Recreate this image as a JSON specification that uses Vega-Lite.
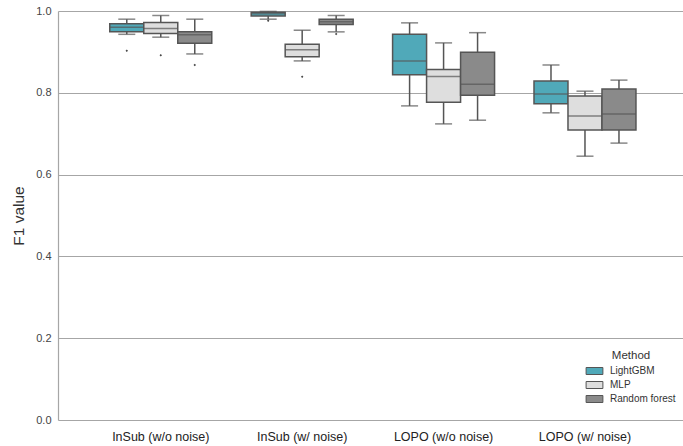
{
  "$schema": "https://vega.github.io/schema/vega-lite/v6.json",
  "autosize": {"type": "none"},
  "padding": {"left": 58, "top": 11, "right": 0, "bottom": 26},
  "width": 625,
  "height": 409,
  "background": "white",
  "config": {
    "font": "Liberation Sans",
    "view": {"stroke": null},
    "axis": {"labelFont": "Liberation Sans", "titleFont": "Liberation Sans"},
    "legend": {"labelFont": "Liberation Sans", "titleFont": "Liberation Sans"}
  },
  "datasets": {
    "stats": [
      {"group": "InSub (w/o noise)", "method": "LightGBM", "lo": 0.943, "q1": 0.949, "med": 0.960, "q3": 0.969, "hi": 0.980},
      {"group": "InSub (w/o noise)", "method": "MLP", "lo": 0.936, "q1": 0.945, "med": 0.957, "q3": 0.972, "hi": 0.989},
      {"group": "InSub (w/o noise)", "method": "Random forest", "lo": 0.895, "q1": 0.921, "med": 0.942, "q3": 0.949, "hi": 0.980},
      {"group": "InSub (w/ noise)", "method": "LightGBM", "lo": 0.980, "q1": 0.988, "med": 0.993, "q3": 0.997, "hi": 0.999},
      {"group": "InSub (w/ noise)", "method": "MLP", "lo": 0.878, "q1": 0.888, "med": 0.905, "q3": 0.919, "hi": 0.953},
      {"group": "InSub (w/ noise)", "method": "Random forest", "lo": 0.949, "q1": 0.967, "med": 0.974, "q3": 0.980, "hi": 0.989},
      {"group": "LOPO (w/o noise)", "method": "LightGBM", "lo": 0.768, "q1": 0.844, "med": 0.878, "q3": 0.943, "hi": 0.971},
      {"group": "LOPO (w/o noise)", "method": "MLP", "lo": 0.724, "q1": 0.777, "med": 0.840, "q3": 0.857, "hi": 0.922},
      {"group": "LOPO (w/o noise)", "method": "Random forest", "lo": 0.733, "q1": 0.794, "med": 0.821, "q3": 0.899, "hi": 0.947},
      {"group": "LOPO (w/ noise)", "method": "LightGBM", "lo": 0.751, "q1": 0.773, "med": 0.797, "q3": 0.829, "hi": 0.868},
      {"group": "LOPO (w/ noise)", "method": "MLP", "lo": 0.645, "q1": 0.709, "med": 0.743, "q3": 0.792, "hi": 0.804},
      {"group": "LOPO (w/ noise)", "method": "Random forest", "lo": 0.677, "q1": 0.709, "med": 0.748, "q3": 0.809, "hi": 0.831}
    ],
    "outliers": [
      {"group": "InSub (w/o noise)", "method": "LightGBM", "value": 0.903},
      {"group": "InSub (w/o noise)", "method": "MLP", "value": 0.892},
      {"group": "InSub (w/o noise)", "method": "Random forest", "value": 0.868},
      {"group": "InSub (w/ noise)", "method": "LightGBM", "value": 0.976},
      {"group": "InSub (w/ noise)", "method": "MLP", "value": 0.839},
      {"group": "InSub (w/ noise)", "method": "Random forest", "value": 0.944}
    ]
  },
  "data": {"name": "stats"},
  "encoding": {
    "x": {
      "field": "group", "type": "nominal",
      "sort": ["InSub (w/o noise)", "InSub (w/ noise)", "LOPO (w/o noise)", "LOPO (w/ noise)"],
      "scale": {"paddingInner": 0, "paddingOuter": 0.21, "align": 0.54},
      "axis": {"title": null, "labelAngle": 0, "domain": false, "ticks": false, "grid": false, "labelFontSize": 12.5, "labelColor": "#222222", "labelPadding": 10}
    },
    "xOffset": {
      "field": "method", "type": "nominal",
      "sort": ["LightGBM", "MLP", "Random forest"],
      "scale": {"paddingInner": 0, "paddingOuter": 0.58}
    }
  },
  "layer": [
    {
      "mark": {"type": "rule", "color": "#555555", "strokeWidth": 1.5},
      "encoding": {
        "y": {"field": "lo", "type": "quantitative", "scale": {"domain": [0, 1], "nice": false},
          "axis": {"title": "F1 value", "values": [0, 0.2, 0.4, 0.6, 0.8, 1.0], "format": ".1f", "tickSize": 0, "labelPadding": 7, "labelFontSize": 11, "labelColor": "#444444", "titleFontSize": 15.5, "titleFontWeight": "normal", "titleColor": "#333333", "titlePadding": 9, "domainColor": "#a6a6a6", "domainWidth": 1.2, "gridColor": "#a6a6a6", "gridWidth": 1.2, "gridOpacity": 1}},
        "y2": {"field": "q1"}
      }
    },
    {
      "mark": {"type": "rule", "color": "#555555", "strokeWidth": 1.5},
      "encoding": {
        "y": {"field": "q3", "type": "quantitative"},
        "y2": {"field": "hi"}
      }
    },
    {
      "mark": {"type": "tick", "color": "#555555", "size": 17, "thickness": 1.5},
      "encoding": {"y": {"field": "lo", "type": "quantitative"}}
    },
    {
      "mark": {"type": "tick", "color": "#555555", "size": 17, "thickness": 1.5},
      "encoding": {"y": {"field": "hi", "type": "quantitative"}}
    },
    {
      "mark": {"type": "bar", "stroke": "#555555", "strokeWidth": 1.5, "opacity": 1},
      "encoding": {
        "y": {"field": "q1", "type": "quantitative"},
        "y2": {"field": "q3"},
        "fill": {
          "field": "method", "type": "nominal",
          "scale": {"domain": ["LightGBM", "MLP", "Random forest"], "range": ["#50a9b9", "#dedede", "#8a8a8a"]},
          "legend": {
            "title": "Method", "orient": "none", "legendX": 529, "legendY": 339,
            "titleAnchor": "middle", "titleFontSize": 11.5, "titleFontWeight": "normal", "titleColor": "#333333", "titlePadding": 2,
            "labelFontSize": 10, "labelColor": "#333333", "labelOffset": 8,
            "symbolType": "M-1.2,-0.5H1.2V0.5H-1.2Z", "symbolSize": 196, "symbolStrokeColor": "#555555", "symbolStrokeWidth": 1,
            "rowPadding": 1
          }
        }
      }
    },
    {
      "mark": {"type": "tick", "color": "#555555", "size": 34, "thickness": 1.5},
      "encoding": {"y": {"field": "med", "type": "quantitative"}}
    },
    {
      "data": {"name": "outliers"},
      "mark": {"type": "point", "filled": true, "shape": "diamond", "color": "#444444", "size": 6, "opacity": 1},
      "encoding": {"y": {"field": "value", "type": "quantitative"}}
    }
  ]
}
